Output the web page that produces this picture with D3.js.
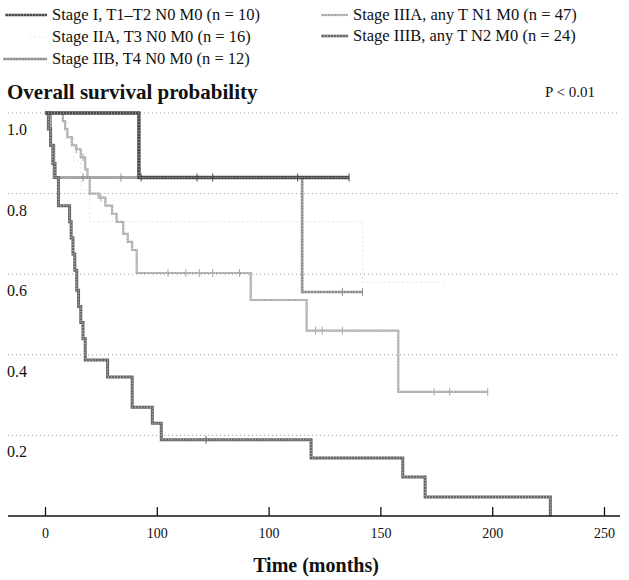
<!DOCTYPE html>
<html>
<head>
<meta charset="utf-8">
<script src="https://cdn.jsdelivr.net/npm/d3@7"></script>
<style>
  html, body { margin: 0; padding: 0; background: #fff; }
  svg { display: block; }
  text { font-family: "Liberation Serif", "Times New Roman", serif; fill: #111; }
</style>
</head>
<body>
<svg id="chart" width="629" height="580"></svg>
<script>
// ---------- data ----------
const seriesNames = [
  "Stage I, T1\u2013T2 N0 M0 (n = 10)",
  "Stage IIA, T3 N0 M0 (n = 16)",
  "Stage IIB, T4 N0 M0 (n = 12)",
  "Stage IIIA, any T N1 M0 (n = 47)",
  "Stage IIIB, any T N2 M0 (n = 24)"
];

const stageI_times = [0, 42];
const stageI_surv  = [1.0, 0.84];
const stageI_end   = 136;
const stageI_cens  = [43, 68, 75, 113, 136];

const stageIIA_times = [0, 10, 13, 16, 20, 142];
const stageIIA_surv  = [1.0, 0.94, 0.88, 0.81, 0.73, 0.58];
const stageIIA_end   = 180;
const stageIIA_cens  = [];

const stageIIB_times = [0, 2.5, 4, 115];
const stageIIB_surv  = [1.0, 0.92, 0.84, 0.556];
const stageIIB_end   = 142;
const stageIIB_cens  = [17, 34, 133, 142];

const stageIIIA_times = [0, 8, 9, 10, 12, 14, 16, 18, 19, 20, 24, 27, 30, 32, 35, 37, 39, 41, 92, 117, 158];
const stageIIIA_surv  = [1.0, 0.98, 0.96, 0.94, 0.92, 0.91, 0.89, 0.86, 0.84, 0.80, 0.79, 0.77, 0.75, 0.73, 0.70, 0.68, 0.66, 0.603, 0.536, 0.46, 0.308];
const stageIIIA_end   = 198;
const stageIIIA_cens  = [14, 17, 25, 55, 63, 69, 75, 87, 121, 124, 133, 174, 181, 198];

const stageIIIB_times = [0, 1.5, 2.5, 3.5, 4.5, 6, 11, 11.7, 12.5, 13.3, 14.2, 15, 16, 17, 18, 28, 39, 48, 52, 119, 160, 170, 226];
const stageIIIB_surv  = [1.0, 0.96, 0.92, 0.875, 0.84, 0.77, 0.73, 0.69, 0.65, 0.61, 0.56, 0.52, 0.48, 0.44, 0.387, 0.345, 0.27, 0.23, 0.189, 0.144, 0.097, 0.047, 0];
const stageIIIB_end   = 226;
const stageIIIB_cens  = [72];

const xTickValues = [0, 50, 100, 150, 200, 250];
const xTickLabels = ["0", "100", "100", "150", "200", "250"];
const yTickValues = [0.2, 0.4, 0.6, 0.8, 1.0];
const yTickLabels = ["0.2", "0.4", "0.6", "0.8", "1.0"];

// ---------- build ----------
const series = [
  {name: seriesNames[0], t: stageI_times, s: stageI_surv, end: stageI_end, cens: stageI_cens,
   color: "#4a4a4a", width: 3.4, tex: "#bdbdbd", texW: 1, dash: null},
  {name: seriesNames[1], t: stageIIA_times, s: stageIIA_surv, end: stageIIA_end, cens: stageIIA_cens,
   color: "#e0e0e0", width: 1.1, tex: null, texW: 0, dash: "1.5,3"},
  {name: seriesNames[2], t: stageIIB_times, s: stageIIB_surv, end: stageIIB_end, cens: stageIIB_cens,
   color: "#8c8c8c", width: 2.6, tex: "#e0e0e0", texW: 0.9, dash: null},
  {name: seriesNames[3], t: stageIIIA_times, s: stageIIIA_surv, end: stageIIIA_end, cens: stageIIIA_cens,
   color: "#ababab", width: 2.2, tex: "#eeeeee", texW: 0.8, dash: null},
  {name: seriesNames[4], t: stageIIIB_times, s: stageIIIB_surv, end: stageIIIB_end, cens: stageIIIB_cens,
   color: "#666666", width: 3.0, tex: "#d8d8d8", texW: 1, dash: null}
];

const svg = d3.select("#chart");
const x = d3.scaleLinear().domain([0, 250]).range([45, 604]);
const y = d3.scaleLinear().domain([0, 1]).range([516, 113]);

// grid lines (dotted)
svg.append("g").selectAll("line").data(yTickValues).join("line")
  .attr("x1", 8).attr("x2", 620)
  .attr("y1", d => y(d)).attr("y2", d => y(d))
  .attr("stroke", "#9a9a9a").attr("stroke-width", 1)
  .attr("stroke-dasharray", "1,3");

// y labels (placed below grid lines)
svg.append("g").selectAll("text").data(yTickValues).join("text")
  .attr("x", 7).attr("y", d => y(d) + 22)
  .attr("font-size", 16)
  .text((d, i) => yTickLabels[i]);

// title and P value
svg.append("text").attr("x", 7).attr("y", 99)
  .attr("font-size", 21).attr("font-weight", "bold")
  .text("Overall survival probability");
svg.append("text").attr("x", 545).attr("y", 97)
  .attr("font-size", 15).text("P < 0.01");

// curves
const line = d3.line().x(d => x(d[0])).y(d => y(d[1])).curve(d3.curveStepAfter);
function pts(sr) {
  const p = sr.t.map((t, i) => [t, sr.s[i]]);
  p.push([sr.end, sr.s[sr.s.length - 1]]);
  return p;
}
function survAt(sr, t) {
  let v = sr.s[0];
  for (let i = 0; i < sr.t.length; i++) if (sr.t[i] <= t) v = sr.s[i];
  return v;
}
const drawOrder = [1, 3, 2, 4, 0];
drawOrder.forEach(i => {
  const sr = series[i];
  const g = svg.append("g");
  g.append("path").attr("d", line(pts(sr)))
    .attr("fill", "none").attr("stroke", sr.color).attr("stroke-width", sr.width)
    .attr("stroke-dasharray", sr.dash);
  if (sr.tex) {
    g.append("path").attr("d", line(pts(sr)))
      .attr("fill", "none").attr("stroke", sr.tex).attr("stroke-width", sr.texW)
      .attr("stroke-dasharray", "1,2");
  }
  g.selectAll("line.c").data(sr.cens).join("line")
    .attr("x1", d => x(d)).attr("x2", d => x(d))
    .attr("y1", d => y(survAt(sr, d)) - 4).attr("y2", d => y(survAt(sr, d)) + 4)
    .attr("stroke", sr.color).attr("stroke-width", 1);
});

// x axis
const xAxis = d3.axisTop(x).tickValues(xTickValues).tickSize(9).tickFormat((d, i) => xTickLabels[i]);
const ax = svg.append("g").attr("transform", `translate(0,${y(0)})`).call(xAxis);
ax.select(".domain").remove();
ax.selectAll(".tick line").attr("stroke", "#111").attr("stroke-width", 1.3);
ax.selectAll(".tick text").attr("y", 22).attr("dy", null).attr("font-size", 14)
  .attr("font-family", "Liberation Serif, serif").attr("fill", "#111");
svg.append("line").attr("x1", 8).attr("x2", 620).attr("y1", y(0)).attr("y2", y(0))
  .attr("stroke", "#111").attr("stroke-width", 1.6);
svg.append("text").attr("x", 316).attr("y", 572).attr("text-anchor", "middle")
  .attr("font-size", 20).attr("font-weight", "bold").text("Time (months)");

// legend
const legendPos = [
  {lx1: 5, lx2: 47, tx: 52, y: 15},
  {lx1: 30, lx2: 46, tx: 52, y: 37},
  {lx1: 3, lx2: 47, tx: 52, y: 59},
  {lx1: 321, lx2: 348, tx: 353, y: 15},
  {lx1: 321, lx2: 348, tx: 353, y: 36}
];
series.forEach((sr, i) => {
  const p = legendPos[i];
  svg.append("line").attr("x1", p.lx1).attr("x2", p.lx2).attr("y1", p.y).attr("y2", p.y)
    .attr("stroke", sr.color).attr("stroke-width", Math.min(sr.width, 2.6))
    .attr("stroke-dasharray", sr.dash);
  if (sr.tex) {
    svg.append("line").attr("x1", p.lx1).attr("x2", p.lx2).attr("y1", p.y).attr("y2", p.y)
      .attr("stroke", sr.tex).attr("stroke-width", sr.texW).attr("stroke-dasharray", "1,2");
  }
  svg.append("text").attr("x", p.tx).attr("y", p.y + 5).attr("font-size", 16.5).text(sr.name);
});
</script>
</body>
</html>
